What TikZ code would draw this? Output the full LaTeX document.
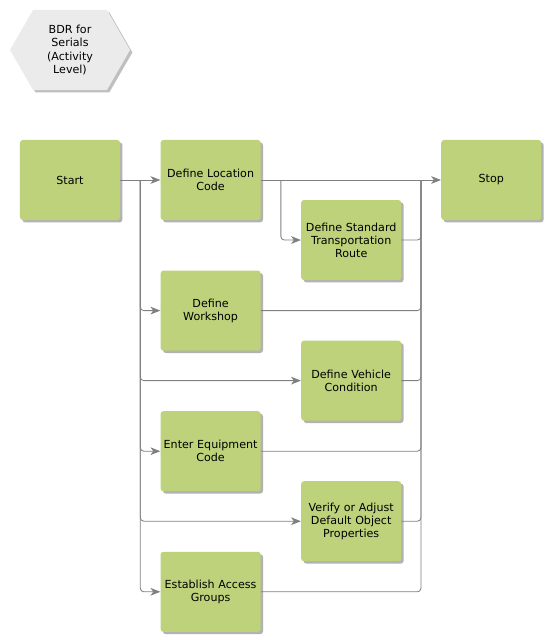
\documentclass[tikz,border=0pt]{standalone}
\usepackage{fontspec}
\setmainfont{DejaVu Sans}
\usetikzlibrary{shapes.symbols, arrows.meta, positioning, shadows, calc}

\definecolor{actgreen}{HTML}{BDD27B}
\definecolor{linegray}{HTML}{808080}
\definecolor{titlegray}{HTML}{EBEBEB}

\begin{document}
\begin{tikzpicture}[
    x=0.025cm, y=-0.025cm,
    every node/.style={font=\fontsize{7.9}{9.3}\selectfont},
    act/.style={rectangle, rounded corners=2pt, minimum width=2.5cm, minimum height=2cm, align=center, fill=actgreen, text width=2.45cm, inner xsep=0pt,
      drop shadow={shadow xshift=0.06cm, shadow yshift=-0.06cm, fill=black, opacity=0.3}},
    title/.style={signal, signal to=west and east, signal pointer angle=120, minimum width=3cm, minimum height=2cm, align=center, fill=titlegray, inner sep=0pt,
      drop shadow={shadow xshift=0.06cm, shadow yshift=-0.06cm, fill=black, opacity=0.25}},
    conn/.style={draw=linegray, line width=0.6pt, rounded corners=2.5pt},
    arrow/.style={conn, -{Stealth[length=7pt, width=5.5pt, inset=2pt]}, color=linegray}
]
\useasboundingbox (0,0) rectangle (550,640);

% Titel
\node[title] (bdr) at (70,50) {BDR for\\Serials\\(Activity\\Level)};

% Hauptreihe
\node[act] (start) at (70,180) {Start};
\node[act, right=1cm of start] (loc) {Define Location\\Code};
\node[act, right=4.5cm of loc] (stop) {Stop};

% Aktivitaeten
\node[act, right=1cm of loc, yshift=-1.5cm] (route) {Define Standard\\Transportation\\Route};
\node[act, below=1.25cm of loc] (shop) {Define\\Workshop};
\node[act, right=1cm of shop, yshift=-1.75cm] (vehicle) {Define Vehicle\\Condition};
\node[act, below=1.5cm of shop] (equip) {Enter Equipment\\Code};
\node[act, right=1cm of equip, yshift=-1.75cm] (verify) {Verify or Adjust\\Default Object\\Properties};
\node[act, below=1.5cm of equip] (access) {Establish Access\\Groups};

% Verzweigungen
\coordinate (split) at ($(start.east)!0.5!(loc.west)$);
\coordinate (split2) at ($(loc.east)!0.111!(stop.west)$);
\coordinate (join) at ($(loc.east)!0.889!(stop.west)$);

% Pfeile
\draw[arrow] (start.east) -- (loc.west);
\draw[arrow] (loc.east) -- (stop.west);
\draw[arrow] (split2) |- (route.west);
\draw[arrow] (split) |- (shop.west);
\draw[arrow] (split) |- (vehicle.west);
\draw[arrow] (split) |- (equip.west);
\draw[arrow] (split) |- (verify.west);
\draw[arrow] (split) |- (access.west);

\draw[conn] (route.east) -| (join);
\draw[conn] (shop.east) -| (join);
\draw[conn] (vehicle.east) -| (join);
\draw[conn] (equip.east) -| (join);
\draw[conn] (verify.east) -| (join);
\draw[conn] (access.east) -| (join);

\end{tikzpicture}
\end{document}
